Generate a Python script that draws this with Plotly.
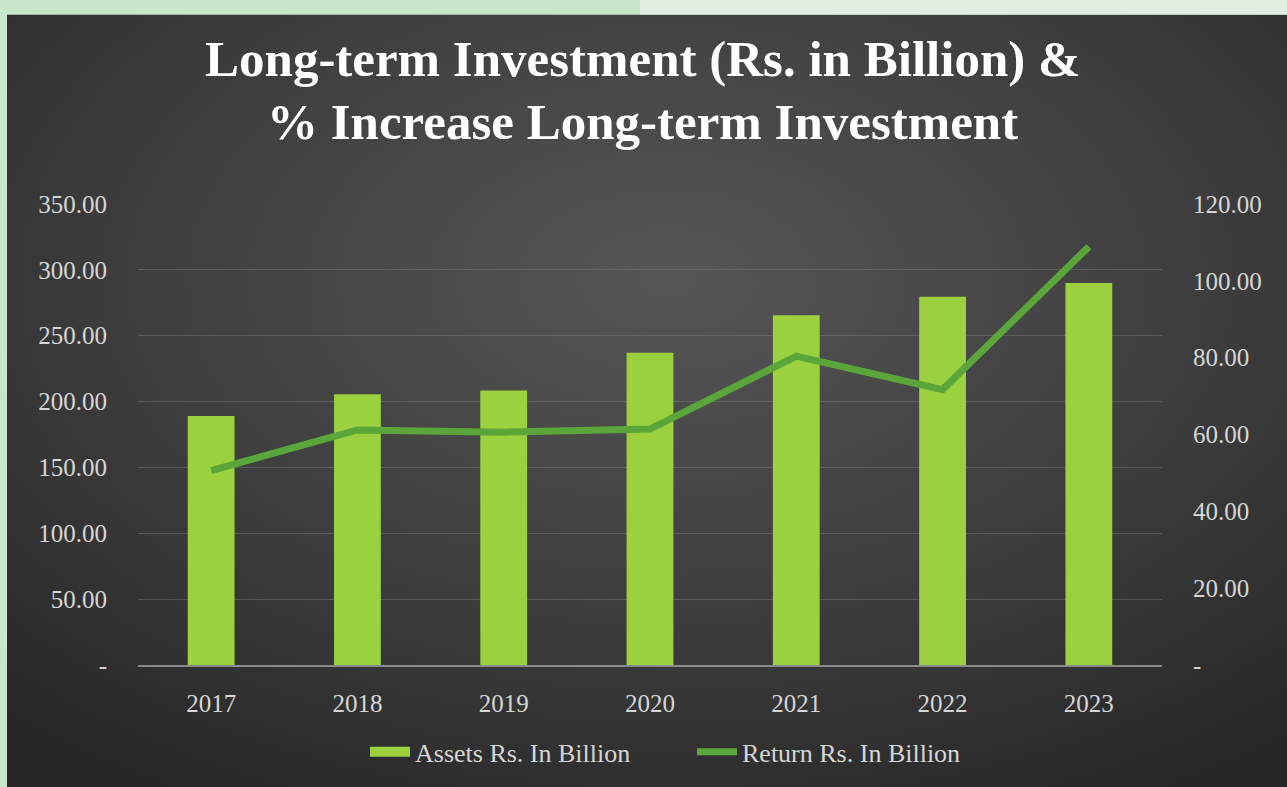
import base64
import plotly.graph_objects as go

# Data
years = ["2017", "2018", "2019", "2020", "2021", "2022", "2023"]
assets = [189.0, 205.5, 208.5, 237.0, 265.5, 279.5, 290.0]
returns = [50.6, 61.2, 60.6, 61.4, 80.4, 71.7, 108.9]

left_ticks = [0, 50, 100, 150, 200, 250, 300, 350]
left_text = ["-", "50.00", "100.00", "150.00", "200.00", "250.00", "300.00", "350.00"]
right_ticks = [0, 20, 40, 60, 80, 100, 120]
right_text = ["-", "20.00", "40.00", "60.00", "80.00", "100.00", "120.00"]

title_lines = ["Long-term Investment (Rs. in Billion) &", "% Increase Long-term Investment"]

BAR_COLOR = "#9bd13e"
LINE_COLOR = "#5aa63a"
TEXT_COLOR = "#d6d6d6"
TICK_FONT = dict(family="Liberation Serif", size=25, color=TEXT_COLOR)

# Dark panel with a soft radial highlight
svg = """<svg xmlns='http://www.w3.org/2000/svg' width='1300' height='800' viewBox='0 0 1300 800' preserveAspectRatio='none'>
<defs><radialGradient id='g' cx='50%' cy='33%' r='75%' gradientUnits='objectBoundingBox'>
<stop offset='0' stop-color='#565656'/><stop offset='0.55' stop-color='#3d3d3d'/><stop offset='1' stop-color='#262626'/>
</radialGradient></defs>
<rect width='1300' height='800' fill='url(#g)'/></svg>"""
panel_src = "data:image/svg+xml;base64," + base64.b64encode(svg.encode()).decode()

W, H = 1287, 787
L, R, T, B = 138, W - 1162, 204, H - 671


def px_to_paper_x(px):
    return (px - L) / (W - L - R)


def px_to_paper_y(py):
    return (H - B - py) / (H - B - T)


fig = go.Figure()
fig.add_trace(go.Bar(
    x=years, y=assets, name="Assets Rs. In Billion",
    marker=dict(color=BAR_COLOR, line=dict(width=0)),
    width=0.32, yaxis="y", showlegend=False, legendgroup="assets",
))
# legend swatch for the bars: a wide flat block
fig.add_trace(go.Scatter(
    x=[None], y=[None], mode="lines", name="Assets Rs. In Billion",
    line=dict(color=BAR_COLOR, width=14), legendgroup="assets",
    hoverinfo="skip",
))
fig.add_trace(go.Scatter(
    x=years, y=returns, name="Return Rs. In Billion", mode="lines",
    line=dict(color=LINE_COLOR, width=7), yaxis="y2",
))

annotations = [
    dict(text=title_lines[0], x=px_to_paper_x(642), y=px_to_paper_y(57)),
    dict(text=title_lines[1], x=px_to_paper_x(642), y=px_to_paper_y(121)),
]
for a in annotations:
    a.update(xref="paper", yref="paper", xanchor="center", yanchor="middle",
             showarrow=False,
             font=dict(family="Liberation Serif", size=51, color="#ffffff", weight="bold"))

fig.update_layout(
    width=W, height=H,
    margin=dict(l=L, r=R, t=T, b=B, pad=0),
    paper_bgcolor="#c8e6c9",
    plot_bgcolor="rgba(0,0,0,0)",
    images=[dict(
        source=panel_src, xref="paper", yref="paper",
        x=px_to_paper_x(7), y=px_to_paper_y(12),
        sizex=px_to_paper_x(W + 40) - px_to_paper_x(7),
        sizey=px_to_paper_y(12) - px_to_paper_y(H + 40),
        xanchor="left", yanchor="top", sizing="stretch", layer="below",
    )],
    shapes=[dict(
        type="rect", xref="paper", yref="paper",
        x0=px_to_paper_x(640), x1=px_to_paper_x(W + 5),
        y0=px_to_paper_y(12), y1=px_to_paper_y(-5),
        fillcolor="#dfeee1", line=dict(width=0), layer="below",
    )],
    annotations=annotations,
    xaxis=dict(
        type="category", showgrid=False, showline=True,
        linecolor="#8a8a8a", linewidth=2, ticks="",
        ticklabelstandoff=15, tickfont=TICK_FONT, zeroline=False,
    ),
    yaxis=dict(
        range=[0, 350], tickvals=left_ticks, ticktext=left_text,
        showgrid=True, gridcolor="rgba(130,130,130,0.4)", gridwidth=1,
        zeroline=False, showline=False, ticks="",
        ticklabelstandoff=30, tickfont=TICK_FONT,
    ),
    yaxis2=dict(
        range=[0, 120], tickvals=right_ticks, ticktext=right_text,
        overlaying="y", side="right", showgrid=False, zeroline=False,
        showline=False, ticks="", ticklabelstandoff=30, tickfont=TICK_FONT,
    ),
    legend=dict(
        orientation="h", x=px_to_paper_x(365), xanchor="left",
        y=px_to_paper_y(759), yanchor="middle",
        font=dict(family="Liberation Serif", size=26, color=TEXT_COLOR),
        bgcolor="rgba(0,0,0,0)", itemwidth=40, tracegroupgap=0,
        entrywidth=272, entrywidthmode="pixels",
    ),
    showlegend=True,
)

fig.write_html("out.html")
